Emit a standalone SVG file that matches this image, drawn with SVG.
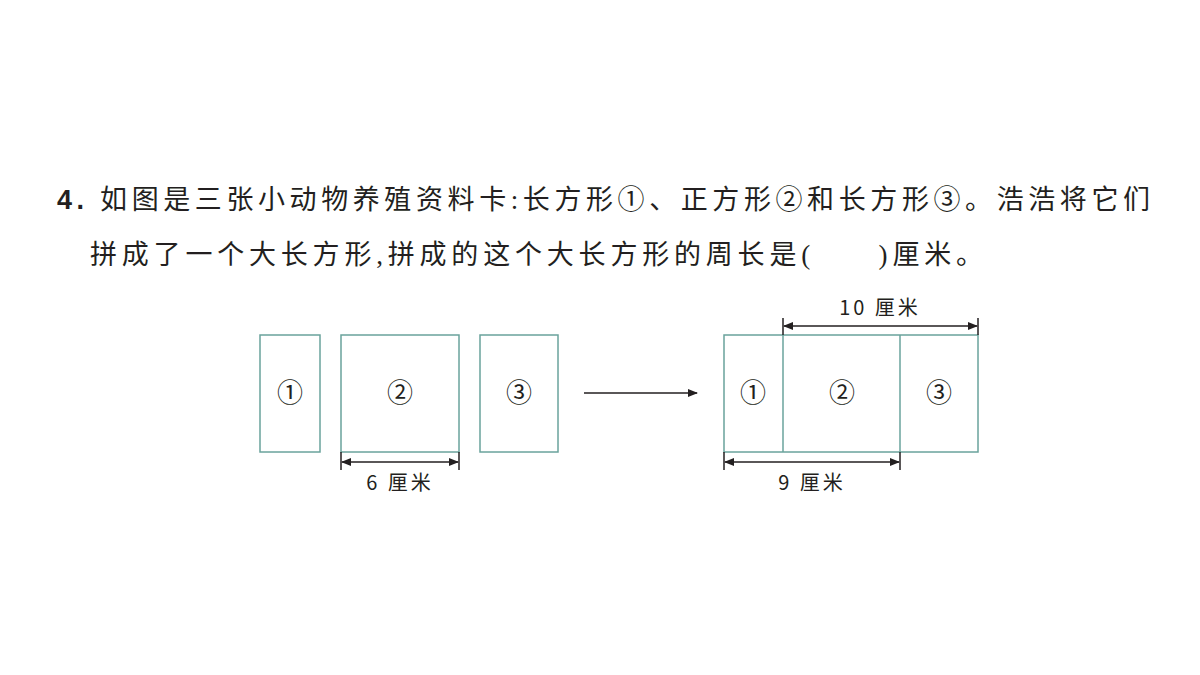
<svg xmlns="http://www.w3.org/2000/svg" width="1200" height="675" viewBox="0 0 1200 675">
<defs>
<marker id="ar" markerWidth="10" markerHeight="8" refX="9" refY="4" orient="auto-start-reverse" markerUnits="userSpaceOnUse"><path d="M0,0 L10,4 L0,8 Z" fill="#231f20"/></marker>
</defs>
<style>
.t{font-family:"Liberation Serif","Noto Sans CJK SC",serif;font-size:27px;fill:#231f20}
.c{font-family:"Noto Sans CJK SC",sans-serif;font-size:26px;fill:#231f20;text-anchor:middle}
.d{font-family:"Noto Sans CJK SC",sans-serif;font-size:20px;fill:#231f20;text-anchor:middle;letter-spacing:3px}
.b{fill:none;stroke:#6aa39c;stroke-width:1.5}
.l{stroke:#231f20;stroke-width:1.5;fill:none}
</style>
<rect width="1200" height="675" fill="#fff"/>
<text class="t" x="57" y="209" textLength="1093" lengthAdjust="spacing"><tspan font-weight="bold" font-family="Liberation Sans">4.</tspan> 如图是三张小动物养殖资料卡:长方形①、正方形②和长方形③。浩浩将它们</text>
<text class="t" x="90" y="264" textLength="893" lengthAdjust="spacing">拼成了一个大长方形,拼成的这个大长方形的周长是(　　)厘米。</text>
<g id="n1"><rect class="b" x="260" y="335" width="60" height="117"/><text class="c" x="290" y="402">①</text></g>
<g id="n2"><rect class="b" x="341" y="335" width="118" height="117"/><text class="c" x="400" y="402">②</text></g>
<g id="n3"><rect class="b" x="480" y="335" width="78" height="117"/><text class="c" x="519" y="402">③</text></g>
<g id="big">
<rect class="b" x="724" y="335" width="254" height="117"/>
<line class="b" x1="783" y1="335" x2="783" y2="452"/>
<line class="b" x1="900" y1="335" x2="900" y2="452"/>
<text class="c" x="753" y="402">①</text><text class="c" x="842" y="402">②</text><text class="c" x="939" y="402">③</text>
</g>
<g id="connectors">
<line class="l" x1="584" y1="393" x2="697" y2="393" marker-end="url(#ar)"/>
<line class="l" x1="341" y1="452" x2="341" y2="470"/><line class="l" x1="459" y1="452" x2="459" y2="470"/>
<line class="l" x1="342" y1="462" x2="458" y2="462" marker-start="url(#ar)" marker-end="url(#ar)"/>
<line class="l" x1="783" y1="318" x2="783" y2="335"/><line class="l" x1="978" y1="318" x2="978" y2="335"/>
<line class="l" x1="784" y1="326" x2="977" y2="326" marker-start="url(#ar)" marker-end="url(#ar)"/>
<line class="l" x1="724" y1="452" x2="724" y2="470"/><line class="l" x1="900" y1="452" x2="900" y2="470"/>
<line class="l" x1="725" y1="462" x2="899" y2="462" marker-start="url(#ar)" marker-end="url(#ar)"/>
</g>
<text class="d" x="400" y="490">6 厘米</text>
<text class="d" x="880" y="315">10 厘米</text>
<text class="d" x="812" y="490">9 厘米</text>
</svg>
